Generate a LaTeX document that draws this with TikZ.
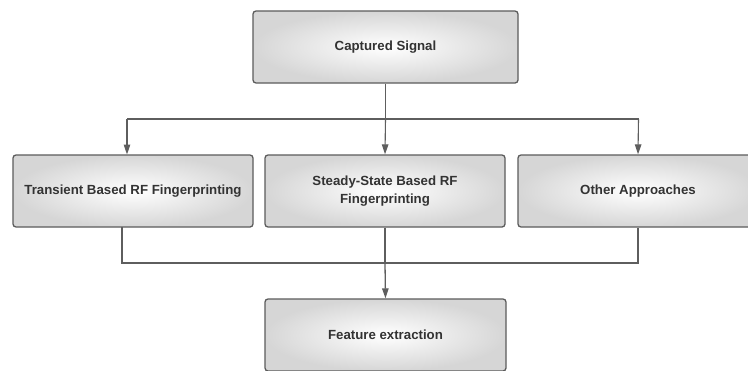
\documentclass[tikz,border=0pt]{standalone}
\usepackage{fontspec}
\setmainfont{Liberation Sans}
\usetikzlibrary{arrows.meta}
\definecolor{boxline}{HTML}{5C5C5C}
\definecolor{boxshade}{HTML}{D6D6D6}
\definecolor{txt}{HTML}{333333}
\definecolor{wire}{HTML}{5E5E5E}
\tikzset{
  stage/.style={draw=boxline, line width=1.3pt, rounded corners=3pt,
    inner color=white, outer color=boxshade,
    minimum width=240pt, minimum height=72pt, align=center,
    text=txt, font=\fontsize{13.25}{17.5}\selectfont\bfseries},
  feed/.style={draw=wire, line width=1.1pt, -{Triangle[width=6.5pt,length=10pt]}},
  merge/.style={draw=wire, line width=1.8pt},
}
\begin{document}
\begin{tikzpicture}[x=1pt,y=-1pt]
\useasboundingbox (0,0) rectangle (748,370);
\clip (0,0) rectangle (748,370);
\fill[white] (0,0) rectangle (748,370);

% stages
\node[stage, minimum width=265pt] (cap) at (385.5,47) {Captured Signal};
\node[stage] (trans) at (133,191) {Transient Based RF Fingerprinting};
\node[stage] (steady) at (385,191) {Steady-State Based RF\\Fingerprinting};
\node[stage] (other) at (638,191) {Other Approaches};
\node[stage, minimum width=241pt] (feat) at (385.5,335) {Feature extraction};

% split rail
\coordinate (sL) at (127,119);
\coordinate (sR) at (638.5,119);
\coordinate (tin) at (127,154.5);
\draw[merge, line width=1.1pt] (cap.south) -- (cap.south |- sL);
\draw[draw=wire, line width=1.1pt] (sL) -- (sR);
\draw[feed] (sL) -- (tin);
\draw[feed] (cap.south |- sL) -- (steady.north);
\draw[feed] (sR) -- (other.north);

% merge rail
\coordinate (mL) at (122,263);
\coordinate (mR) at (638,263);
\coordinate (tout) at (122,227);
\draw[merge] (tout) -- (mL) -- (mR) -- (other.south -| mR);
\draw[merge] (steady.south) -- (steady.south |- mL);
\draw[feed, line width=1.3pt] (steady.south |- mL) -- (feat.north);
\end{tikzpicture}
\end{document}
